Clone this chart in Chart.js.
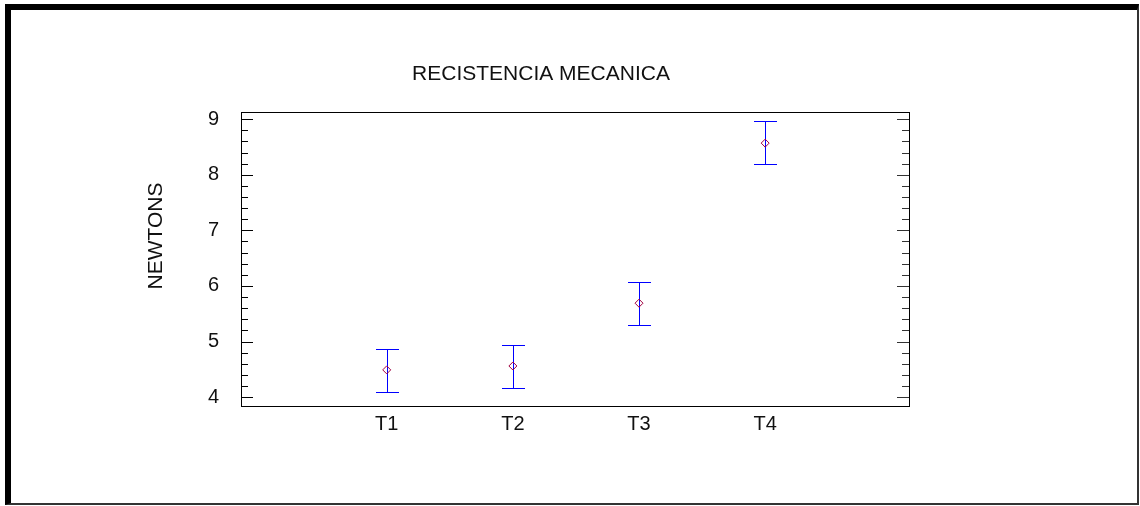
<!DOCTYPE html>
<html>
<head>
<meta charset="utf-8">
<script src="https://cdn.jsdelivr.net/npm/chart.js@4"></script>
<style>
    body { margin: 0; background: #fff; }
    #marco {
        position: absolute; left: 5px; top: 4px;
        width: 1134px; height: 501px; box-sizing: border-box;
        border-left: 6px solid #000; border-top: 6px solid #000;
        border-right: 2px solid #333; border-bottom: 2px solid #333;
    }
    #grafico { position: absolute; left: 0; top: 0; }
</style>
</head>
<body>
<div id="marco"></div>
<canvas id="grafico" width="1140" height="506"></canvas>
<script>
// Datos del grafico
const tratamientos = ['T1', 'T2', 'T3', 'T4'];
const medias = [4.49, 4.56, 5.69, 8.57];
const limiteInferior = [4.09, 4.16, 5.30, 8.19];
const limiteSuperior = [4.87, 4.94, 6.07, 8.96];

const titulo = 'RECISTENCIA MECANICA';
const tituloEjeY = 'NEWTONS';
const fuente = '"Liberation Sans", Arial, sans-serif';

const puntos = tratamientos.map((t, i) => ({ x: i + 1, y: medias[i] }));

// Barras de error (dibujadas con las escalas del grafico)
const barrasError = {
    id: 'barrasError',
    beforeDatasetsDraw(chart) {
        const { ctx, scales: { x, y } } = chart;
        ctx.save();
        ctx.strokeStyle = '#0000ff';
        ctx.lineWidth = 1;
        tratamientos.forEach((t, i) => {
            const px = Math.round(x.getPixelForValue(i + 1)) + 0.5;
            const yTop = Math.round(y.getPixelForValue(limiteSuperior[i])) + 0.5;
            const yBot = Math.round(y.getPixelForValue(limiteInferior[i])) + 0.5;
            ctx.beginPath();
            ctx.moveTo(px, yTop); ctx.lineTo(px, yBot);
            ctx.moveTo(px - 11.5, yTop); ctx.lineTo(px + 11.5, yTop);
            ctx.moveTo(px - 11.5, yBot); ctx.lineTo(px + 11.5, yBot);
            ctx.stroke();
        });
        ctx.restore();
    }
};

// Marco del area, marcas hacia adentro y titulos
const decoracion = {
    id: 'decoracion',
    afterDraw(chart) {
        const { ctx, chartArea: a, scales: { y } } = chart;
        ctx.save();
        ctx.strokeStyle = '#000';
        ctx.lineWidth = 1;
        ctx.strokeRect(Math.round(a.left) + 0.5, Math.round(a.top) + 0.5,
            Math.round(a.right - a.left), Math.round(a.bottom - a.top));

        y.ticks.forEach(tk => {
            const v = tk.value;
            const mayor = Math.abs(v - Math.round(v)) < 1e-6;
            const largo = mayor ? 12 : 7;
            const py = Math.round(y.getPixelForValue(v)) + 0.5;
            ctx.strokeStyle = '#000';
            ctx.beginPath();
            ctx.moveTo(a.left, py); ctx.lineTo(a.left + largo, py);
            ctx.stroke();
            ctx.strokeStyle = '#333';
            ctx.beginPath();
            ctx.moveTo(a.right, py); ctx.lineTo(a.right - largo, py);
            ctx.stroke();
        });

        ctx.fillStyle = '#111';
        ctx.textAlign = 'center';
        ctx.textBaseline = 'middle';
        ctx.font = '21px ' + fuente;
        ctx.fillText(titulo, 541, 74);

        ctx.translate(156, 236);
        ctx.rotate(-Math.PI / 2);
        ctx.fillText(tituloEjeY, 0, 0);
        ctx.restore();
    }
};

new Chart(document.getElementById('grafico'), {
    type: 'scatter',
    data: {
        datasets: [{
            data: puntos,
            pointStyle: 'rectRot',
            pointRadius: 4,
            pointHoverRadius: 4,
            pointBorderWidth: 1,
            pointBorderColor: '#a00040',
            pointBackgroundColor: 'rgba(0,0,0,0)'
        }]
    },
    options: {
        responsive: false,
        animation: false,
        layout: { padding: { left: 0, top: 112, right: 231, bottom: 0 } },
        plugins: {
            legend: { display: false },
            title: { display: false },
            tooltip: { enabled: false }
        },
        scales: {
            x: {
                type: 'linear',
                min: -0.155,
                max: 5.14,
                afterFit(scale) { scale.height = 100; },
                afterBuildTicks(scale) {
                    scale.ticks = tratamientos.map((t, i) => ({ value: i + 1 }));
                },
                grid: { display: false, drawTicks: false },
                border: { display: true, color: '#000' },
                ticks: {
                    color: '#111',
                    padding: 6,
                    autoSkip: false,
                    maxRotation: 0,
                    font: { family: fuente, size: 20 },
                    callback: v => tratamientos[v - 1] || ''
                }
            },
            y: {
                min: 3.84,
                max: 9.13,
                afterFit(scale) { scale.width = 241; },
                grid: { display: false, drawTicks: false },
                border: { display: true, color: '#000' },
                ticks: {
                    stepSize: 0.2,
                    includeBounds: false,
                    autoSkip: false,
                    color: '#111',
                    padding: 22,
                    font: { family: fuente, size: 20 },
                    callback: v => Math.abs(v - Math.round(v)) < 1e-6 ? String(Math.round(v)) : ''
                }
            }
        }
    },
    plugins: [barrasError, decoracion]
});
</script>
</body>
</html>
